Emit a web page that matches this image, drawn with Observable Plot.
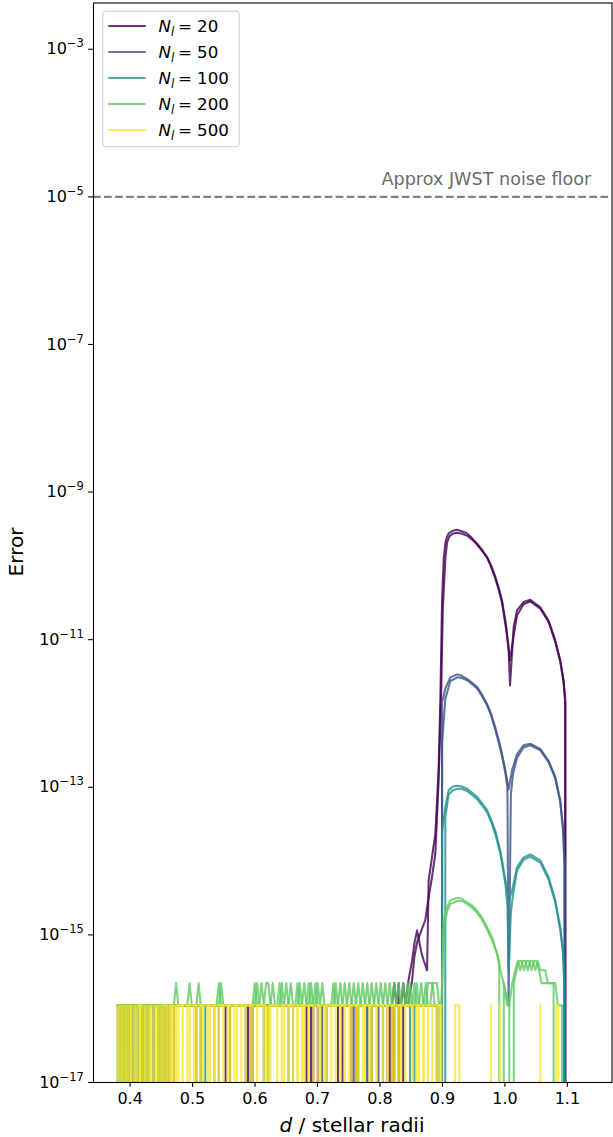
<!DOCTYPE html>
<html>
<head>
<meta charset="utf-8">
<script src="https://cdn.jsdelivr.net/npm/d3@7"></script>
<script src="https://cdn.jsdelivr.net/npm/@observablehq/plot@0.6"></script>
<style>
html, body { margin: 0; padding: 0; background: #fff; }
#chart { width: 613px; height: 1137px; }
</style>
</head>
<body>
<div id="chart"></div>
<script>
// ---------- categories / styling lists ----------
const N_VALUES = [20, 50, 100, 200, 500];
const COLORS = ["#440154", "#3b528b", "#21918c", "#5ec962", "#fde725"];
const X_TICKS = [0.4, 0.5, 0.6, 0.7, 0.8, 0.9, 1.0, 1.1];
const Y_TICKS = [1e-17, 1e-15, 1e-13, 1e-11, 1e-9, 1e-7, 1e-5, 1e-3];
const NOISE_FLOOR = [1e-5];
const NOISE_LABEL = [{x: 1.1382, y: 1.72e-5, text: "Approx JWST noise floor"}];

// ---------- sampled round-off section (value = level * EPS, 0 = exactly zero) ----------
const EPS = 1.11e-16;
const GRID_START = 0.38, GRID_STEP = 0.0036;

const LEVELS_20A = ["1111111111","1111111111","1111111111","1111111111","1111111110","1111111111","1111111111","1111111111","1111101111","1111111110","1111111111","1101111111","101211"];
const LEVELS_20B = ["1111111111","1111111111","1111111111","1111111111","1111111111","1111111110","1111111111","1111111111","1111111101","1111111111","1111101111","1111111111","11011201"];
const LEVELS_50A = ["1111111111","1101111111","1111111111","1111110111","1111111111","1111111111","1111111111","1111111111","1111111111","1111111111","1111110111","1111111111","1111111111","1111111111","1110"];
const LEVELS_50B = ["1101110111","0111101111","0111011111","1111111111","1111111111","1111111101","1111111111","1111111111","1111111111","1101111111","1111111111","1111111011","1111111111","1111111111","1110"];
const LEVELS_100A = ["1010111101","1101111011","1011111111","1111111101","1111111111","1111111111","1111110111","1111111111","1111111111","1111111111","1111111111","1111111111","1111111111","1011111111","1110"];
const LEVELS_100B = ["1111111111","1111111011","1111111111","1111111111","1111011111","1111111111","1111111111","1111111011","1111111111","1111111111","1111111111","1101111111","1111111111","1111111111","11110"];
const LEVELS_200A = ["1111111111","1111111111","1111112111","1111112111","1111121111","1111111111","1211211112","1121111211","1211121121","1111112112","1112111211","1211121112","1112111211","2112111211","22211"];
const LEVELS_200B = ["1111111011","1110111111","1111111111","1121111111","1111112111","1111111111","1121112211","1112121111","2112112112","1211111211","1211121112","1112111211","1211121112","1121121122","21111"];
const LEVELS_500A = ["1010101010","1101010101","0101101111","0111110111","1111011111","1011111101","1111110111","1101111110","1111011111","1011111101","1111101111","1011111110","1111011111","1101111011","11110",
                     "00000","1110000000","0000001000","0000000000","0000000000","0000011000","0"];
const LEVELS_500B = ["0101010101","1010101010","1110110111","1110111110","1101111101","1111011111","1011111011","1111101111","1011111101","1111011111","1101111101","1111011111","1011111011","1111101111","10111",
                     "00000","0000000000","0000000000","1000000000","0000000010","0000000000","0"];

// ---------- transit section: [d, log10(error)], null = exactly zero ----------
const TAIL_20A = [[0.8336,-15.955],[0.8372,-15.654],[0.8408,-15.955],[0.8448,-15.654],[0.8514,-15.35],[0.8554,-15.1],[0.8594,-14.94],[0.8630,-15.1],[0.8666,-15.25],[0.8702,-15.35],[0.8754,-15.48],[0.8779,-14.26],[0.8832,-13.95],[0.8886,-13.63],[0.8914,-13.18],[0.8939,-12.73],[0.8966,-11.82],[0.8994,-10.47],[0.9020,-9.9],[0.9046,-9.70],[0.9070,-9.61],[0.9099,-9.56],[0.9165,-9.525],[0.9234,-9.51],[0.931,-9.53],[0.9394,-9.56],[0.947,-9.62],[0.9554,-9.70],[0.963,-9.78],[0.9714,-9.88],[0.978,-10.0],[0.9846,-10.15],[0.990,-10.3],[0.9954,-10.47],[1.0022,-10.83],[1.0059,-11.15],[1.0082,-11.62],[1.0139,-10.83],[1.0194,-10.60],[1.0299,-10.49],[1.0406,-10.46],[1.0566,-10.56],[1.0699,-10.74],[1.0806,-11.01],[1.0886,-11.28],[1.0939,-11.55],[1.0966,-11.82],[1.1002,null]];
const TAIL_20B = [[0.8408,-15.955],[0.8448,-15.955],[0.8514,-15.62],[0.855,-15.3],[0.8594,-15.1],[0.8646,-14.98],[0.868,-14.9],[0.8725,-14.8],[0.8779,-14.49],[0.8832,-14.22],[0.8886,-13.9],[0.8939,-12.9],[0.8975,-11.9],[0.9005,-10.6],[0.9046,-9.9],[0.9075,-9.68],[0.9110,-9.60],[0.9165,-9.565],[0.9234,-9.55],[0.931,-9.565],[0.9394,-9.59],[0.947,-9.64],[0.9554,-9.71],[0.963,-9.79],[0.9714,-9.89],[0.978,-10.01],[0.9846,-10.17],[0.990,-10.32],[0.9954,-10.5],[1.0022,-10.87],[1.0059,-11.1],[1.0082,-11.28],[1.0139,-10.95],[1.0194,-10.67],[1.0299,-10.52],[1.0406,-10.48],[1.0566,-10.58],[1.0699,-10.76],[1.0806,-11.03],[1.0886,-11.3],[1.0939,-11.58],[1.0966,-11.86],[1.1002,null]];
const TAIL_50A = [[0.8994,-11.85],[0.9046,-11.66],[0.9126,-11.51],[0.9234,-11.47],[0.931,-11.49],[0.9394,-11.53],[0.947,-11.58],[0.9554,-11.64],[0.963,-11.74],[0.9714,-11.87],[0.978,-12.01],[0.9846,-12.19],[0.990,-12.36],[0.9954,-12.55],[1.0006,-12.77],[1.0059,-13.03],[1.0114,-12.77],[1.0194,-12.55],[1.0299,-12.43],[1.0406,-12.41],[1.0566,-12.48],[1.0699,-12.64],[1.0806,-12.86],[1.0886,-13.18],[1.0930,-13.54],[1.0955,-14.0],[1.1002,null]];
const TAIL_50B = [[0.8994,-12.4],[0.9046,-11.8],[0.9126,-11.56],[0.9234,-11.51],[0.931,-11.52],[0.9394,-11.55],[0.947,-11.6],[0.9554,-11.66],[0.963,-11.76],[0.9714,-11.89],[0.978,-12.03],[0.9846,-12.22],[0.990,-12.39],[0.9954,-12.58],[1.0006,-12.8],[1.0040,-13.0],[1.0059,-15.955],[1.0095,-13.1],[1.0130,-12.82],[1.0194,-12.6],[1.0299,-12.46],[1.0406,-12.43],[1.0566,-12.5],[1.0699,-12.66],[1.0806,-12.88],[1.0886,-13.2],[1.0930,-13.58],[1.0955,-14.1],[1.1002,null]];
const TAIL_100A = [[0.8994,-13.6],[0.9046,-13.27],[0.9099,-13.04],[0.9165,-12.99],[0.9234,-12.98],[0.931,-12.99],[0.9394,-13.02],[0.947,-13.07],[0.9554,-13.13],[0.963,-13.21],[0.9714,-13.31],[0.978,-13.44],[0.9846,-13.59],[0.9926,-13.86],[0.9954,-13.99],[1.0006,-14.26],[1.0059,-14.53],[1.0114,-14.40],[1.0194,-14.08],[1.0299,-13.95],[1.0406,-13.91],[1.0566,-13.99],[1.0699,-14.22],[1.0806,-14.53],[1.0886,-14.90],[1.0930,-15.21],[1.0950,-15.62],[1.1002,null]];
const TAIL_100B = [[0.9046,-13.4],[0.9099,-13.1],[0.9165,-13.04],[0.9234,-13.02],[0.931,-13.02],[0.9394,-13.05],[0.947,-13.1],[0.9554,-13.16],[0.963,-13.24],[0.9714,-13.34],[0.978,-13.47],[0.9846,-13.63],[0.9926,-13.9],[0.9954,-14.03],[1.0006,-14.3],[1.0040,-14.6],[1.0059,-15.5],[1.0095,-14.7],[1.0130,-14.45],[1.0194,-14.13],[1.0299,-13.98],[1.0406,-13.94],[1.0566,-14.02],[1.0699,-14.25],[1.0806,-14.56],[1.0886,-14.93],[1.0930,-15.25],[1.0950,-15.66],[1.1002,null]];
const TAIL_200A = [[0.9020,-14.8],[0.9074,-14.62],[0.9126,-14.53],[0.9234,-14.50],[0.931,-14.51],[0.9394,-14.56],[0.947,-14.6],[0.9554,-14.67],[0.963,-14.76],[0.9686,-14.85],[0.9794,-15.03],[0.9874,-15.256],[0.9926,-15.478],[0.9979,-15.654],[1.0070,-15.955],[1.0116,-15.654],[1.0166,-15.478],[1.0206,-15.353],[1.0246,-15.478],[1.0286,-15.353],[1.0326,-15.353],[1.0366,-15.478],[1.0406,-15.353],[1.0446,-15.353],[1.0486,-15.478],[1.0526,-15.353],[1.0566,-15.478],[1.0606,-15.478],[1.0646,-15.478],[1.0686,-15.654],[1.0726,-15.654],[1.0766,-15.654],[1.0806,-15.654],[1.0846,-15.955],[1.0886,-15.955],[1.0914,-15.955],[1.0950,null]];
const TAIL_200B = [[0.9020,-14.95],[0.9074,-14.68],[0.9126,-14.58],[0.9234,-14.54],[0.931,-14.54],[0.9394,-14.58],[0.947,-14.63],[0.9554,-14.7],[0.963,-14.79],[0.9686,-14.88],[0.9794,-15.07],[0.9874,-15.256],[0.9910,-15.353],[0.9946,null],[0.9982,-15.654],[1.0034,-15.955],[1.0070,-15.955],[1.0106,null],[1.0142,-15.654],[1.0186,-15.478],[1.0226,-15.353],[1.0266,-15.353],[1.0306,-15.478],[1.0346,-15.353],[1.0386,-15.353],[1.0426,-15.478],[1.0466,-15.353],[1.0506,-15.353],[1.0546,-15.478],[1.0586,-15.654],[1.0626,-15.654],[1.0666,-15.654],[1.0706,-15.654],[1.0746,-15.654],[1.0779,-15.654],[1.0815,null]];
const TAIL_500A = [];
const TAIL_500B = [];

const SERIES = [
  {n: 20, id: "20a", levels: LEVELS_20A, tail: TAIL_20A},
  {n: 20, id: "20b", levels: LEVELS_20B, tail: TAIL_20B},
  {n: 50, id: "50a", levels: LEVELS_50A, tail: TAIL_50A},
  {n: 50, id: "50b", levels: LEVELS_50B, tail: TAIL_50B},
  {n: 100, id: "100a", levels: LEVELS_100A, tail: TAIL_100A},
  {n: 100, id: "100b", levels: LEVELS_100B, tail: TAIL_100B},
  {n: 200, id: "200a", levels: LEVELS_200A, tail: TAIL_200A},
  {n: 200, id: "200b", levels: LEVELS_200B, tail: TAIL_200B},
  {n: 500, id: "500a", levels: LEVELS_500A, tail: TAIL_500A},
  {n: 500, id: "500b", levels: LEVELS_500B, tail: TAIL_500B}
];

const rows = [];
for (const s of SERIES) {
  const codes = s.levels.join("");
  for (let i = 0; i < codes.length; i++) {
    rows.push({id: s.id, n: s.n, d: GRID_START + i * GRID_STEP, err: (+codes[i]) * EPS});
  }
  for (const [d, e] of s.tail) {
    rows.push({id: s.id, n: s.n, d, err: e === null ? 0 : Math.pow(10, e)});
  }
}
// like matplotlib's log "clip": zero errors head far below the axes
const ZERO_STANDIN = 1e-300;

const FONT = "'DejaVu Sans', 'Liberation Sans', sans-serif";
const LW = 2.08; // 1.5 pt at 100 dpi

const plot = Plot.plot({
  width: 613,
  height: 1137,
  marginLeft: 93,
  marginRight: 1.5,
  marginTop: 2.5,
  marginBottom: 55,
  style: {fontFamily: FONT, fontSize: "16px", color: "#000", background: "#fff", overflow: "visible"},
  x: {domain: [0.3414, 1.1714]},
  y: {type: "log", domain: [1e-17, Math.pow(10, -2.373)]},
  color: {type: "ordinal", domain: N_VALUES, range: COLORS},
  marks: [
    Plot.ruleY(NOISE_FLOOR, {stroke: "#808080", strokeWidth: LW, strokeDasharray: "7.7,3.33"}),
    Plot.text(NOISE_LABEL, {x: "x", y: "y", text: "text", textAnchor: "end", fill: "#6b6b6b", fontSize: 17.6}),
    Plot.line(rows, {
      x: "d",
      y: r => (r.err > 0 ? r.err : ZERO_STANDIN),
      z: "id",
      stroke: "n",
      strokeWidth: LW,
      strokeOpacity: 0.8,
      strokeLinejoin: "round",
      clip: true
    }),
    Plot.axisX({ticks: X_TICKS, tickSize: 4.86, tickPadding: 4.86, strokeWidth: 1.1, tickFormat: v => v.toFixed(1), label: null}),
    Plot.axisY({ticks: Y_TICKS, tickSize: 4.86, tickPadding: 4.86, strokeWidth: 1.1, tickFormat: v => String(Math.round(Math.log10(v))), label: null}),
    Plot.frame({stroke: "#000", strokeWidth: 1.1})
  ]
});

document.getElementById("chart").appendChild(plot);

const svg = d3.select(plot);

// y tick labels as 10 with a superscript exponent
svg.selectAll('g[aria-label="y-axis tick label"] text').each(function () {
  const el = d3.select(this);
  const exp = el.text();
  el.text(null);
  el.append("tspan").text("10");
  el.append("tspan").attr("font-size", 11.5).attr("dy", -7).text(exp.replace("-", "\u2212"));
});

// axis labels
const xl = svg.append("text")
  .attr("x", 352).attr("y", 1132)
  .attr("text-anchor", "middle")
  .attr("font-family", FONT).attr("font-size", 20).attr("fill", "#000");
xl.append("tspan").attr("font-style", "italic").text("d");
xl.append("tspan").text(" / stellar radii");

svg.append("text")
  .attr("transform", "translate(22.5,552) rotate(-90)")
  .attr("text-anchor", "middle")
  .attr("font-family", FONT).attr("font-size", 20).attr("fill", "#000")
  .text("Error");

// legend
const lg = svg.append("g").attr("aria-label", "legend").attr("text-anchor", "start");
lg.append("rect")
  .attr("x", 102.7).attr("y", 11.2).attr("width", 136.6).attr("height", 135.5)
  .attr("rx", 3).attr("fill", "#fff").attr("fill-opacity", 0.8)
  .attr("stroke", "#cccccc").attr("stroke-width", 1);
N_VALUES.forEach((n, k) => {
  const cy = 26 + k * 26;
  lg.append("line")
    .attr("x1", 108.3).attr("x2", 145.7).attr("y1", cy).attr("y2", cy)
    .attr("stroke", COLORS[k]).attr("stroke-opacity", 0.8).attr("stroke-width", LW);
  const t = lg.append("text")
    .attr("x", 158.5).attr("y", cy + 6.3)
    .attr("text-anchor", "start")
    .attr("font-family", FONT).attr("font-size", 16.7).attr("fill", "#000");
  t.append("tspan").attr("font-style", "italic").text("N");
  t.append("tspan").attr("font-style", "italic").attr("font-size", 11.7).attr("dy", 3.2).text("l");
  t.append("tspan").attr("dy", -3.2).attr("dx", 3.8).text("=");
  t.append("tspan").attr("dx", 5).text(String(n));
});
</script>
</body>
</html>
